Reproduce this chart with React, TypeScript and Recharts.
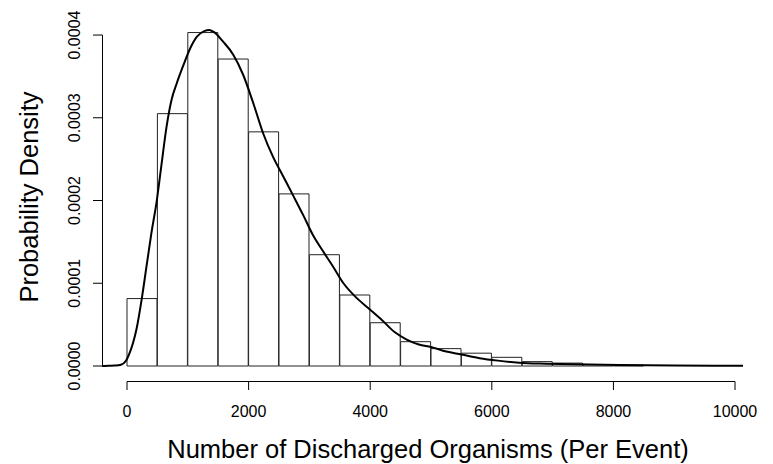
import React from 'react';
import { ComposedChart, Bar, Line, XAxis, YAxis, Label } from 'recharts';

// Histogram bins (start of each 500-wide bin) and their densities
const binStarts = [0, 500, 1000, 1500, 2000, 2500, 3000, 3500, 4000, 4500, 5000, 5500, 6000, 6500, 7000, 7500, 8000];
const binDensity = [
  0.0000815, 0.000305, 0.000403, 0.000371, 0.000283, 0.000208, 0.0001345, 0.0000858,
  0.0000523, 0.0000294, 0.000021, 0.0000155, 0.0000105, 0.0000053, 0.0000035, 0.0000018, 0.000001,
];
const BIN_WIDTH = 500;

// Kernel density curve
const curveX = [
  -411, -300, -200, -100, -20, 50, 100, 160, 240, 320, 400, 490, 570, 650, 730, 820, 930, 1040, 1150,
  1280, 1350, 1420, 1580, 1750, 1910, 2080, 2240, 2400, 2570, 2740, 2900, 3060, 3230, 3390, 3560,
  3780, 4000, 4200, 4400, 4600, 4800, 5000, 5250, 5500, 5800, 6100, 6450, 6900, 7350, 8100, 9000, 10131,
];
const curveY = [
  0, 0.0000002, 0.0000005, 0.0000015, 0.000006, 0.000017, 0.000028, 0.000046, 0.00008, 0.00012,
  0.00016, 0.0002, 0.000245, 0.000289, 0.000321, 0.000342, 0.000364, 0.000384, 0.000398, 0.000405,
  0.000406, 0.000404, 0.000392, 0.000376, 0.000352, 0.000317, 0.000281, 0.000253, 0.000229, 0.000205,
  0.000182, 0.000158, 0.000138, 0.00012, 0.0001, 0.000082, 0.000068, 0.000055, 0.000041, 0.000032,
  0.000026, 0.000023, 0.0000175, 0.000014, 0.0000095, 0.0000065, 0.000004, 0.0000028, 0.000002,
  0.0000012, 0.0000006, 0.0000003,
];

const xTicks = [0, 2000, 4000, 6000, 8000, 10000];
const yTicks = [0, 0.0001, 0.0002, 0.0003, 0.0004];

const X_TITLE = 'Number of Discharged Organisms (Per Event)';
const Y_TITLE = 'Probability Density';

// Plot-region domain (slightly larger than the axis positions, as R offsets its axes)
const X_MIN = -477;
const X_MAX = 10312;
const Y_MIN = -0.00002296;
const Y_MAX = 0.0004218;

const FONT = '"Liberation Sans", Arial, Helvetica, sans-serif';
const W = 773;
const H = 464;
const MARGIN = { top: 17, right: 19, bottom: 0, left: 0 };
const Y_AXIS_W = 98;
const X_AXIS_H = 79;
const TICK_IN = 4;
const TICK_OUT = 5;

const histData = binStarts.map((s, i) => ({ x: s + BIN_WIDTH / 2, density: binDensity[i] }));
const curveData = curveX.map((x, i) => ({ x, y: curveY[i] }));

// first-tick coordinates, recorded while the axis renders its ticks in order
const tickStore = { x0: 0, y0: 0 };

const YTick = (props: any) => {
  const { x, y, payload, index, visibleTicksCount } = props;
  if (index === 0) tickStore.y0 = y;
  const isLast = index === visibleTicksCount - 1;
  const ax = x + TICK_IN + 0.5;
  const tx = x + TICK_IN - 22;
  return (
    <g>
      <line x1={ax} y1={y} x2={x - TICK_OUT} y2={y} stroke="#000" strokeWidth={1} />
      {isLast && <line x1={ax} y1={tickStore.y0} x2={ax} y2={y} stroke="#000" strokeWidth={1} />}
      <text x={tx} y={y} transform={`rotate(-90 ${tx} ${y})`} textAnchor="middle" fontSize={16} fill="#000" fontFamily={FONT}>
        {Number(payload.value).toFixed(4)}
      </text>
    </g>
  );
};

const XTick = (props: any) => {
  const { x, y, payload, index, visibleTicksCount } = props;
  if (index === 0) tickStore.x0 = x;
  const isLast = index === visibleTicksCount - 1;
  const ay = y - TICK_IN + 0.5;
  return (
    <g>
      <line x1={x} y1={ay} x2={x} y2={y + TICK_OUT} stroke="#000" strokeWidth={1} />
      {isLast && <line x1={tickStore.x0} y1={ay} x2={x} y2={ay} stroke="#000" strokeWidth={1} />}
      <text x={x} y={y + 21} dy="0.71em" textAnchor="middle" fontSize={16} fill="#000" fontFamily={FONT}>
        {payload.value}
      </text>
    </g>
  );
};

export default function App() {
  return (
    <div style={{ position: 'absolute', left: 0, top: 0, width: W, height: H, background: '#fff' }}>
      <ComposedChart width={W} height={H} data={histData} margin={MARGIN} barCategoryGap={0} barGap={0}>
        <XAxis
          type="number"
          dataKey="x"
          domain={[X_MIN, X_MAX]}
          ticks={xTicks}
          interval={0}
          axisLine={false}
          tickLine={false}
          tickSize={0}
          tickMargin={0}
          tick={<XTick />}
          height={X_AXIS_H}
        >
          <Label
            content={(p: any) => {
              const vb = p.viewBox;
              return (
                <text x={vb.x + vb.width / 2 + 2} y={vb.y + 73} textAnchor="middle" fontSize={25.5} fill="#000" fontFamily={FONT}>
                  {X_TITLE}
                </text>
              );
            }}
          />
        </XAxis>
        <XAxis xAxisId="curve" type="number" dataKey="x" domain={[X_MIN, X_MAX]} hide />
        <YAxis
          type="number"
          domain={[Y_MIN, Y_MAX]}
          ticks={yTicks}
          interval={0}
          axisLine={false}
          tickLine={false}
          tickSize={0}
          tickMargin={0}
          tick={<YTick />}
          width={Y_AXIS_W}
        >
          <Label
            content={(p: any) => {
              const vb = p.viewBox;
              const cx = vb.x + 38;
              const cy = vb.y + vb.height / 2 - 4;
              return (
                <text x={cx} y={cy} transform={`rotate(-90 ${cx} ${cy})`} textAnchor="middle" fontSize={25.5} fill="#000" fontFamily={FONT}>
                  {Y_TITLE}
                </text>
              );
            }}
          />
        </YAxis>
        <Bar dataKey="density" fill="#fff" stroke="#222" strokeWidth={1} isAnimationActive={false} />
        <Line
          xAxisId="curve"
          data={curveData}
          dataKey="y"
          type="monotone"
          dot={false}
          activeDot={false}
          stroke="#000"
          strokeWidth={2}
          isAnimationActive={false}
        />
      </ComposedChart>
    </div>
  );
}
